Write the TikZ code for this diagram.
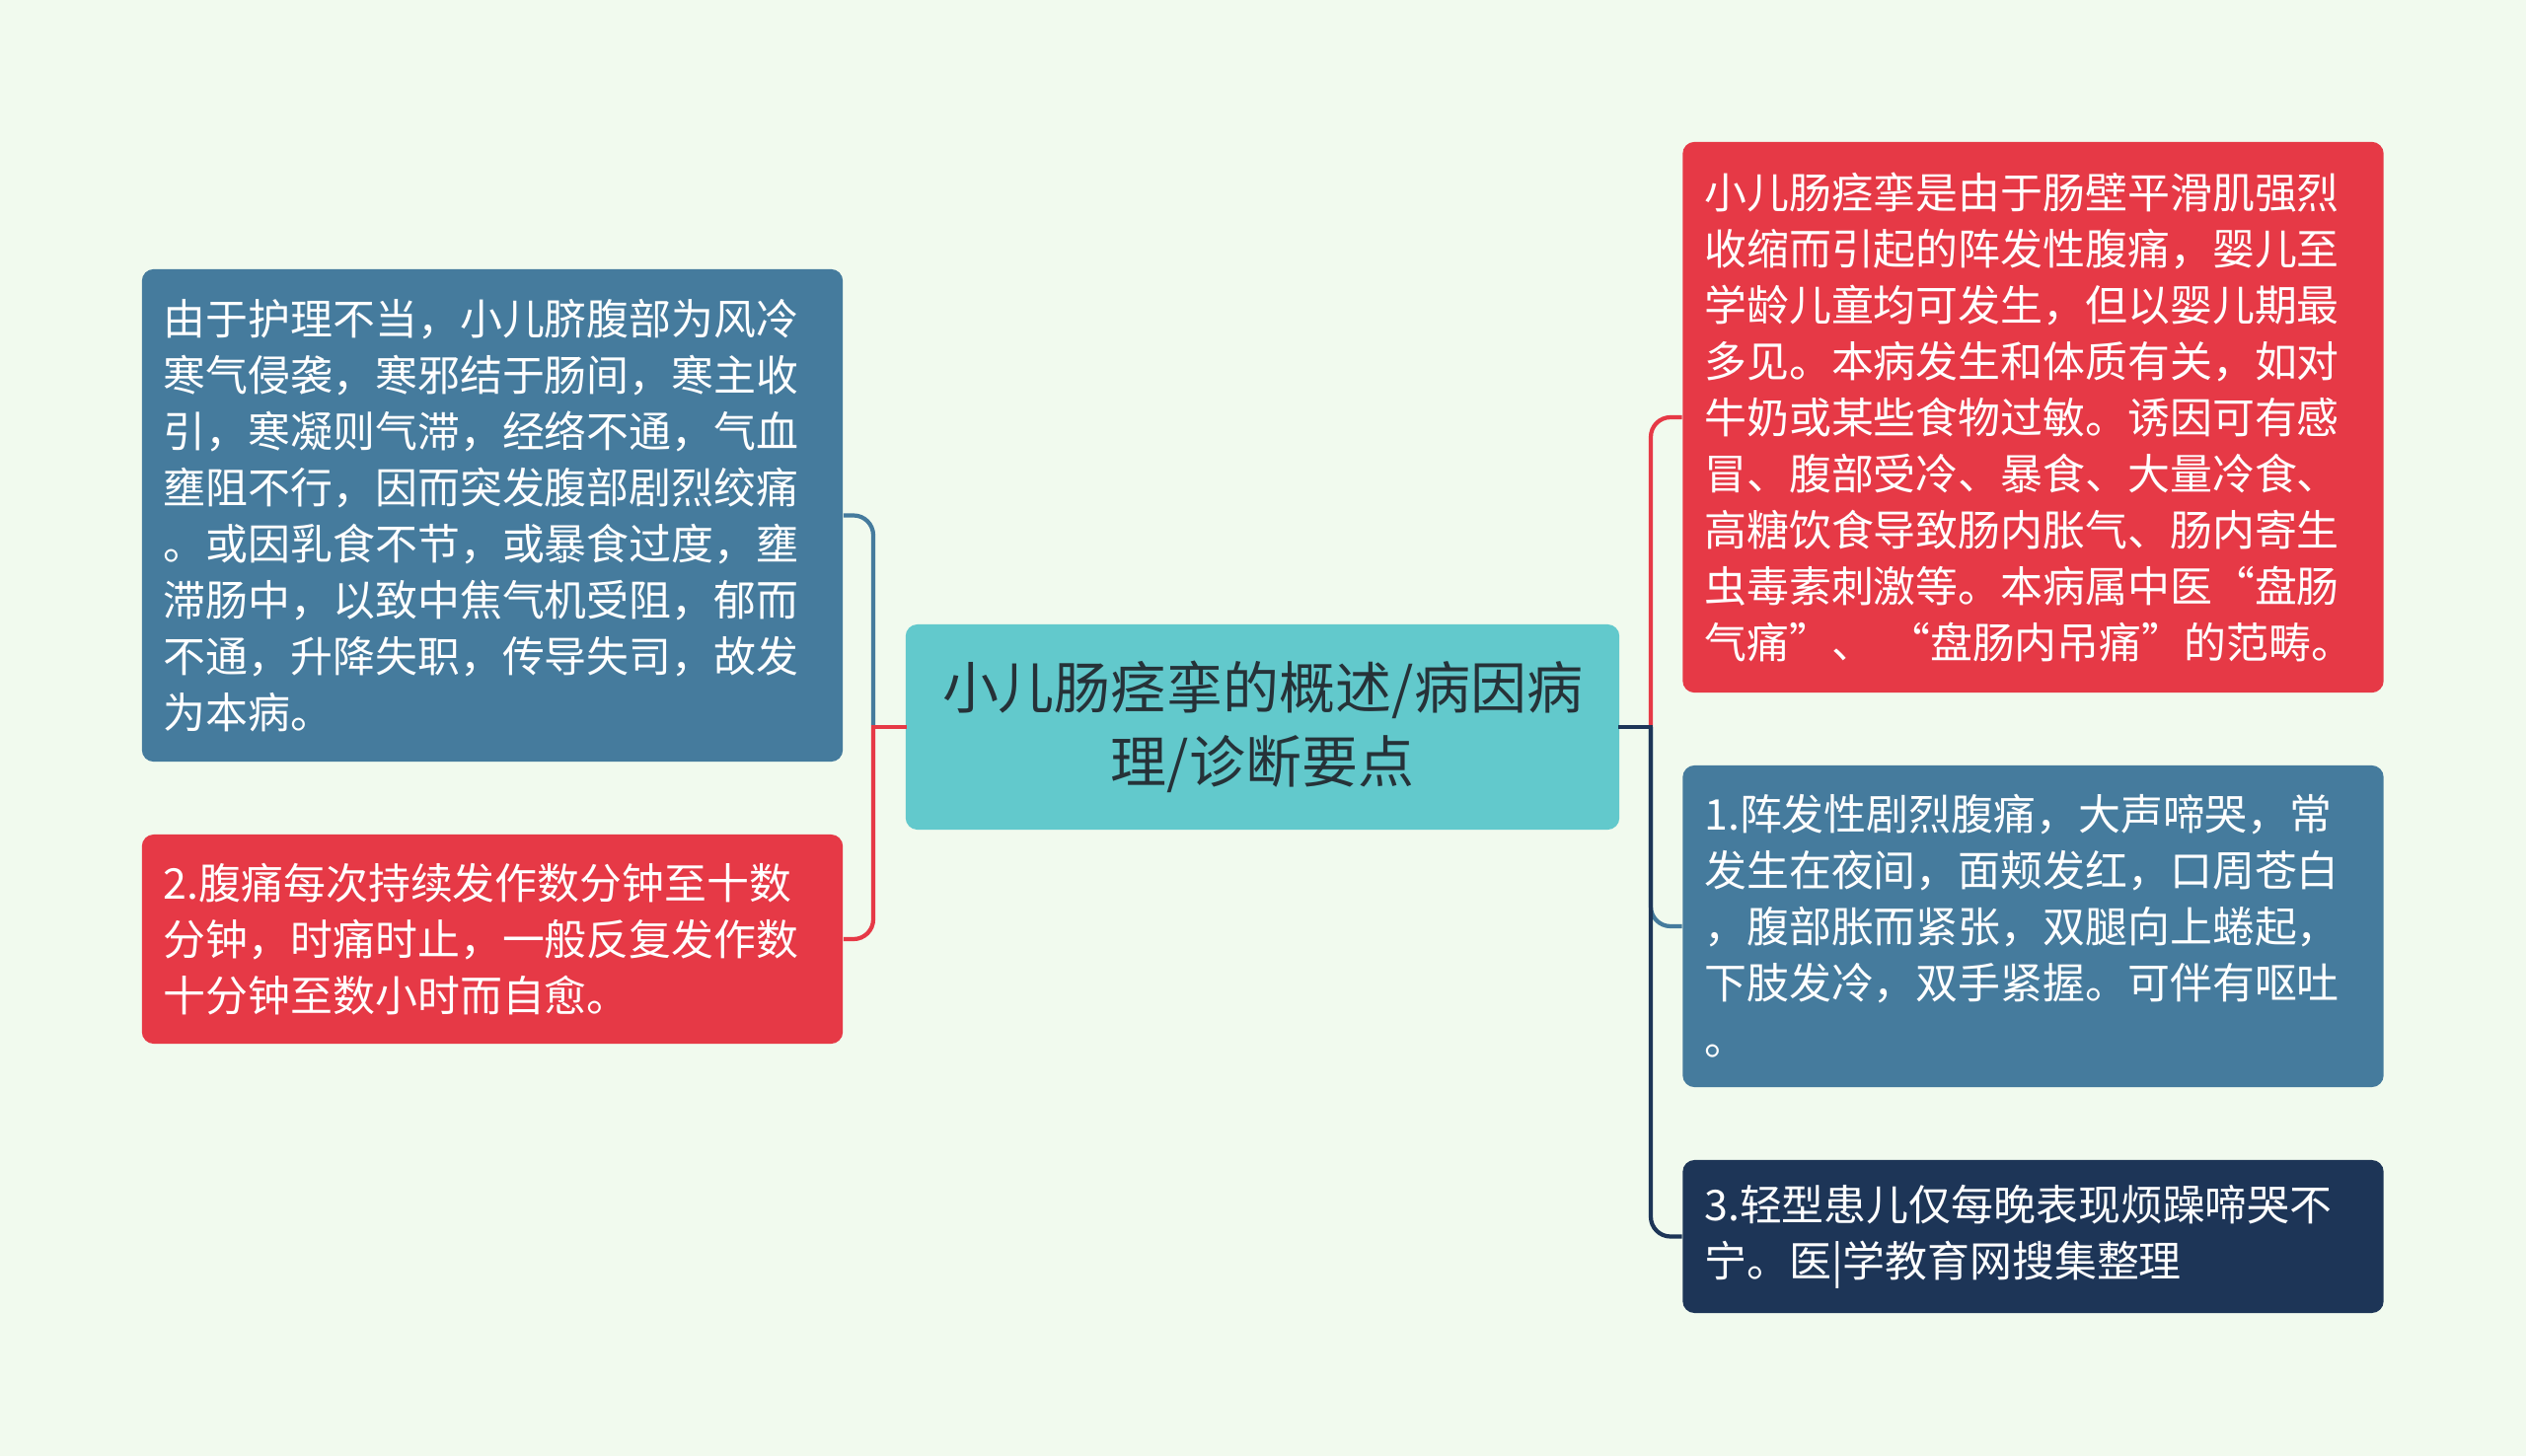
\documentclass[tikz,border=0pt]{standalone}
\usepackage{fontspec}
\setmainfont{Noto Sans CJK SC}
\definecolor{bg}{HTML}{F1FAEE}
\definecolor{cred}{HTML}{E63946}
\definecolor{cblue}{HTML}{457B9D}
\definecolor{cnavy}{HTML}{1D3557}
\definecolor{ccyan}{HTML}{62C9CC}
\definecolor{ctext}{HTML}{263238}
\tikzset{
  leaf/.style={rounded corners=0.12cm, inner sep=0pt, minimum width=7.1cm, text width=6.66cm, align=left, text=white, font=\fontsize{12.2pt}{16.2pt}\selectfont},
  rootbox/.style={rounded corners=0.12cm, inner sep=0pt, fill=ccyan, minimum width=7.23cm, minimum height=2.08cm, text width=7cm, align=center, text=ctext, font=\fontsize{16.2pt}{21.3pt}\selectfont},
  stub/.style={line width=1.2pt, line cap=rect},
  edge/.style={line width=1.2pt, rounded corners=0.2cm}
}
\begin{document}
\begin{tikzpicture}[x=0.01cm,y=-0.01cm]
\fill[bg] (0,0) rectangle (2560,1476);
\useasboundingbox (0,0) rectangle (2560,1476);

\node[rootbox] (c) at (1279.5,737) {小儿肠痉挛的概述/病因病\\理/诊断要点};

\node[leaf, fill=cblue, minimum height=4.99cm] (lt) at (499,522.5) {由于护理不当，小儿脐腹部为风冷\\寒气侵袭，寒邪结于肠间，寒主收\\引，寒凝则气滞，经络不通，气血\\壅阻不行，因而突发腹部剧烈绞痛\\。或因乳食不节，或暴食过度，壅\\滞肠中，以致中焦气机受阻，郁而\\不通，升降失职，传导失司，故发\\为本病。};

\node[leaf, fill=cred, minimum height=2.12cm] (lb) at (499,952) {2.腹痛每次持续发作数分钟至十数\\分钟，时痛时止，一般反复发作数\\十分钟至数小时而自愈。};

\node[leaf, fill=cred, minimum height=5.58cm] (rt) at (2060.5,423) {小儿肠痉挛是由于肠壁平滑肌强烈\\收缩而引起的阵发性腹痛，婴儿至\\学龄儿童均可发生，但以婴儿期最\\多见。本病发生和体质有关，如对\\牛奶或某些食物过敏。诱因可有感\\冒、腹部受冷、暴食、大量冷食、\\高糖饮食导致肠内胀气、肠内寄生\\虫毒素刺激等。本病属中医“盘肠\\气痛”、 “盘肠内吊痛”的范畴。};

\node[leaf, fill=cblue, minimum height=3.26cm] (rm) at (2060.5,939) {1.阵发性剧烈腹痛，大声啼哭，常\\发生在夜间，面颊发红，口周苍白\\，腹部胀而紧张，双腿向上蜷起，\\下肢发冷，双手紧握。可伴有呕吐\\。};

\node[leaf, fill=cnavy, minimum height=1.55cm] (rb) at (2060.5,1253.5) {3.轻型患儿仅每晚表现烦躁啼哭不\\宁。医|学教育网搜集整理};

\coordinate (jl) at (885,737);
\coordinate (jr) at (1673,737);

% left side
\draw[stub, cblue] (c.west) -- (jl);
\draw[edge, cblue] (jl) |- (lt.east);
\draw[stub, cred] (c.west) -- (jl);
\draw[edge, cred] (jl) |- (lb.east);

% right side
\draw[stub, cred] (c.east) -- (jr);
\draw[edge, cred] (jr) |- (rt.west);
\draw[stub, cblue] (c.east) -- (jr);
\draw[edge, cblue] (jr) |- (rm.west);
\draw[stub, cnavy] (c.east) -- (jr);
\draw[edge, cnavy] (jr) |- (rb.west);
\end{tikzpicture}
\end{document}
